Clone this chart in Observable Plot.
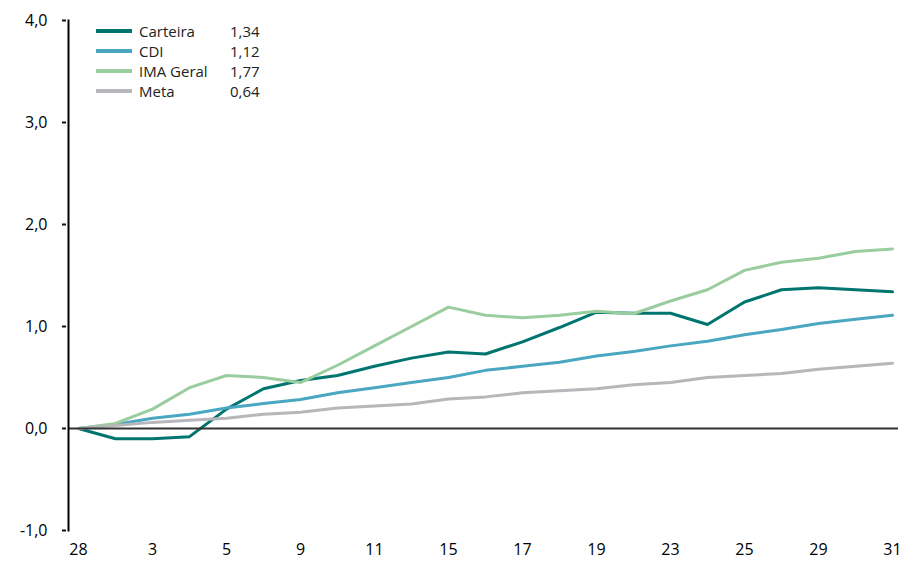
<!DOCTYPE html>
<html>
<head>
<meta charset="utf-8">
<script src="https://cdn.jsdelivr.net/npm/d3@7"></script>
<script src="https://cdn.jsdelivr.net/npm/@observablehq/plot@0.6"></script>
<style>
  html, body { margin: 0; padding: 0; background: #fff; }
  #wrap { position: relative; width: 899px; height: 565px; font-family: "Open Sans", sans-serif; }
  #legend { position: absolute; left: 96px; top: 21px; font-size: 15px; color: #222; }
  #legend .row { display: flex; align-items: center; height: 20px; }
  #legend .sw { width: 36px; height: 4px; margin-right: 7px; }
  #legend .nm { width: 91px; }
</style>
</head>
<body>
<div id="wrap"><div id="legend"></div></div>
<script>
const days = [28, 1, 3, 4, 5, 8, 9, 10, 11, 12, 15, 16, 17, 18, 19, 22, 23, 24, 25, 26, 29, 30, 31];
const seriesNames = ["Carteira", "CDI", "IMA Geral", "Meta"];
const seriesColors = ["#00756f", "#4aa7c1", "#9acd9e", "#b7b6bb"];
const legendValues = [1.34, 1.12, 1.77, 0.64];
const carteira = [0, -0.10, -0.10, -0.08, 0.19, 0.39, 0.47, 0.52, 0.61, 0.69, 0.75, 0.73, 0.85, 0.99, 1.14, 1.13, 1.13, 1.02, 1.24, 1.36, 1.38, 1.36, 1.34];
const cdi = [0, 0.04, 0.10, 0.14, 0.20, 0.245, 0.285, 0.35, 0.40, 0.45, 0.50, 0.57, 0.61, 0.65, 0.71, 0.755, 0.81, 0.855, 0.92, 0.97, 1.03, 1.07, 1.11];
const imaGeral = [0, 0.05, 0.19, 0.40, 0.52, 0.50, 0.45, 0.62, 0.81, 1.00, 1.19, 1.11, 1.085, 1.11, 1.15, 1.125, 1.25, 1.36, 1.55, 1.63, 1.67, 1.735, 1.76];
const meta = [0, 0.03, 0.06, 0.08, 0.10, 0.14, 0.16, 0.20, 0.22, 0.24, 0.29, 0.31, 0.35, 0.37, 0.39, 0.43, 0.45, 0.50, 0.52, 0.54, 0.58, 0.61, 0.64];
const yTicks = [-1, 0, 1, 2, 3, 4];

const allSeries = [carteira, cdi, imaGeral, meta];
const data = [];
allSeries.forEach((vals, s) => vals.forEach((v, i) => data.push({i, v, s: seriesNames[s]})));
const fmt = v => d3.format(".1f")(v).replace(".", ",").replace("\u2212", "-");
const fmt2 = v => d3.format(".2f")(v).replace(".", ",").replace("\u2212", "-");

const chart = Plot.plot({
  width: 899,
  height: 565,
  marginLeft: 68,
  marginRight: 1,
  marginTop: 20,
  marginBottom: 35,
  insetLeft: 10,
  insetRight: 6,
  style: {fontFamily: "Open Sans, sans-serif", fontSize: "16px", color: "#000", overflow: "visible"},
  x: {domain: [0, days.length - 1]},
  y: {domain: [-1, 4]},
  color: {domain: seriesNames, range: seriesColors},
  marks: [
    Plot.axisY({ticks: yTicks, tickFormat: fmt, tickSize: 4, dx: -2, tickPadding: 15, label: null, stroke: "#111", strokeWidth: 2}),
    Plot.axisX({ticks: d3.range(0, days.length, 2), tickFormat: i => days[i], tickSize: 0, tickPadding: 13, label: null}),
    Plot.lineY(data, {x: "i", y: "v", stroke: "s", strokeWidth: 3, z: "s"}),
    Plot.ruleY([0], {stroke: "#333", strokeWidth: 2}),
    Plot.frame({anchor: "left", stroke: "#000", strokeWidth: 2})
  ]
});
document.getElementById("wrap").prepend(chart);

const lg = document.getElementById("legend");
seriesNames.forEach((n, k) => {
  const row = document.createElement("div");
  row.className = "row";
  row.innerHTML = `<div class="sw" style="background:${seriesColors[k]}"></div><div class="nm">${n}</div><div>${fmt2(legendValues[k])}</div>`;
  lg.appendChild(row);
});
</script>
</body>
</html>
